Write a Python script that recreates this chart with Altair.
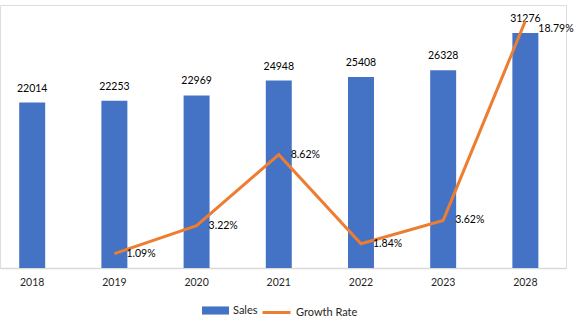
import altair as alt
import pandas as pd

years = ["2018", "2019", "2020", "2021", "2022", "2023", "2028"]
sales = [22014, 22253, 22969, 24948, 25408, 26328, 31276]
growth = [None, 1.09, 3.22, 8.62, 1.84, 3.62, 18.79]
growth_labels = ["", "1.09%", "3.22%", "8.62%", "1.84%", "3.62%", "18.79%"]

df = pd.DataFrame({
    "Year": years,
    "Sales": sales,
    "Growth": growth,
    "GrowthLabel": growth_labels,
    "S": "Sales",
    "G": "Growth Rate",
})

FONT = "Lato"
FS = 10.5

x = alt.X(
    "Year:N", sort=years,
    scale=alt.Scale(paddingInner=0.684, paddingOuter=0.285, align=0.41),
    axis=alt.Axis(title=None, labelAngle=0, domainColor="#D9D9D9", domainWidth=1.5,
                  ticks=False, labelPadding=9, labelFont=FONT, labelFontSize=FS,
                  labelColor="#262626", grid=False),
)
y_sales = alt.Y("Sales:Q", scale=alt.Scale(domain=[0, 35000], nice=False), axis=None)
y_growth = alt.Y("Growth:Q", scale=alt.Scale(domain=[0, 20], nice=False), axis=None)

base = alt.Chart(df)

bars = base.mark_bar().encode(
    x=x, y=y_sales,
    fill=alt.Fill("S:N", scale=alt.Scale(domain=["Sales"], range=["#4472C4"]),
                  legend=alt.Legend(title=None, orient="none", legendX=202, legendY=292,
                                    symbolType="M-1,-0.3H1V0.3H-1Z", symbolSize=729,
                                    symbolStrokeWidth=0, labelFont=FONT, labelFontSize=FS + 0.5,
                                    labelColor="#262626", labelOffset=4)),
)
bar_text = base.mark_text(baseline="bottom", dy=-9, font=FONT, fontSize=FS, color="#000000").encode(
    x=x, y=y_sales, text="Sales:Q"
)

gdf = base.transform_filter("datum.Growth != null")
line = gdf.mark_line(strokeWidth=3).encode(
    x=x, y=y_growth,
    stroke=alt.Stroke("G:N", scale=alt.Scale(domain=["Growth Rate"], range=["#ED7D31"]),
                      legend=alt.Legend(title=None, orient="none", legendX=261, legendY=292,
                                        symbolType="stroke", symbolSize=784,
                                        symbolStrokeWidth=3, labelFont=FONT, labelFontSize=FS + 0.5,
                                        labelColor="#262626", labelOffset=4)),
)
g_text = gdf.transform_filter("datum.Year != '2028'").mark_text(
    align="left", baseline="middle", dx=12, font=FONT, fontSize=FS, color="#000000"
).encode(x=x, y=y_growth, text="GrowthLabel:N")
g_text_last = gdf.transform_filter("datum.Year == '2028'").mark_text(
    align="left", baseline="middle", dx=13, dy=8, font=FONT, fontSize=FS, color="#000000"
).encode(x=x, y=y_growth, text="GrowthLabel:N")

left = alt.layer(bars, bar_text)
right = alt.layer(line, g_text, g_text_last)

chart = alt.layer(left, right).resolve_scale(y="independent", fill="independent", stroke="independent").properties(
    width=566, height=263,
    autosize=alt.AutoSizeParams(type="none"),
    padding={"left": 0, "top": 5, "right": 8, "bottom": 57},
).configure_view(stroke=None).configure(background="white")

chart.save("out.html", embed_options={"renderer": "svg", "actions": False})
